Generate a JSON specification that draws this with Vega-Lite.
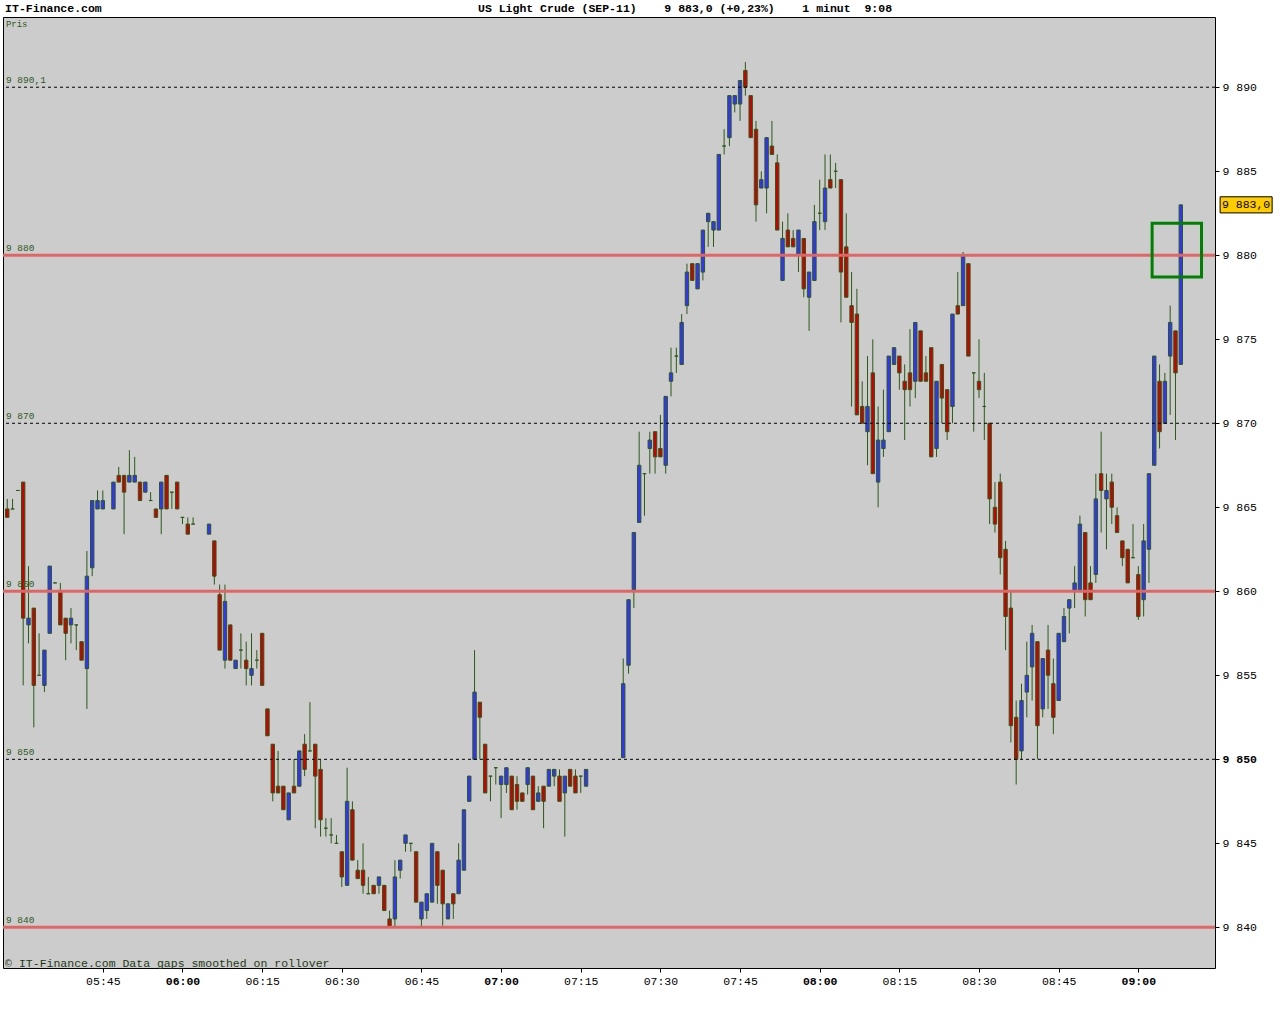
{
  "$schema": "https://vega.github.io/schema/vega-lite/v6.json",
  "width": 1212,
  "height": 951,
  "autosize": {"type": "none"},
  "padding": {"left": 3, "top": 17, "right": 65, "bottom": 56},
  "background": "white",
  "config": {
    "view": {"fill": "#cccccc", "stroke": "black", "strokeWidth": 1},
    "axis": {"labelFont": "Liberation Mono", "labelFontSize": 11.5, "labelColor": "black", "tickColor": "black", "grid": false, "domain": false, "title": null}
  },
  "datasets": {
    "candles": [
      {"t":327,"o":9864.9,"h":9865.5,"l":9864.4,"c":9864.4},
      {"t":328,"o":9864.9,"h":9865.5,"l":9864.9,"c":9864.9},
      {"t":329,"o":9866.0,"h":9866.0,"l":9866.0,"c":9866.0},
      {"t":330,"o":9866.5,"h":9866.5,"l":9854.4,"c":9858.4},
      {"t":331,"o":9858.0,"h":9861.5,"l":9856.9,"c":9858.4},
      {"t":332,"o":9859.0,"h":9859.0,"l":9851.9,"c":9854.4},
      {"t":333,"o":9855.0,"h":9857.5,"l":9855.0,"c":9855.0},
      {"t":334,"o":9854.4,"h":9856.5,"l":9854.0,"c":9856.5},
      {"t":335,"o":9857.5,"h":9861.5,"l":9857.5,"c":9861.5},
      {"t":336,"o":9860.5,"h":9860.5,"l":9860.5,"c":9860.5},
      {"t":337,"o":9860.0,"h":9860.5,"l":9858.0,"c":9858.0},
      {"t":338,"o":9858.4,"h":9858.4,"l":9855.9,"c":9857.5},
      {"t":339,"o":9858.0,"h":9859.0,"l":9856.9,"c":9858.4},
      {"t":340,"o":9858.0,"h":9858.0,"l":9856.5,"c":9858.0},
      {"t":341,"o":9857.0,"h":9857.0,"l":9855.9,"c":9855.9},
      {"t":342,"o":9855.4,"h":9862.4,"l":9853.0,"c":9860.9},
      {"t":343,"o":9861.4,"h":9865.4,"l":9860.9,"c":9865.4},
      {"t":344,"o":9864.9,"h":9866.0,"l":9864.9,"c":9865.4},
      {"t":345,"o":9864.9,"h":9866.0,"l":9864.9,"c":9865.4},
      {"t":347,"o":9864.9,"h":9866.5,"l":9864.9,"c":9866.5},
      {"t":348,"o":9866.9,"h":9867.4,"l":9866.5,"c":9866.5},
      {"t":349,"o":9866.9,"h":9866.9,"l":9863.4,"c":9865.9},
      {"t":350,"o":9866.5,"h":9868.4,"l":9866.5,"c":9866.9},
      {"t":351,"o":9866.5,"h":9868.0,"l":9866.5,"c":9866.9},
      {"t":352,"o":9866.5,"h":9866.5,"l":9865.4,"c":9865.4},
      {"t":353,"o":9865.9,"h":9866.5,"l":9865.9,"c":9866.5},
      {"t":354,"o":9865.4,"h":9865.9,"l":9865.4,"c":9865.4},
      {"t":355,"o":9864.9,"h":9864.9,"l":9864.4,"c":9864.4},
      {"t":356,"o":9864.9,"h":9866.5,"l":9863.4,"c":9866.5},
      {"t":357,"o":9866.9,"h":9866.9,"l":9864.9,"c":9864.9},
      {"t":358,"o":9865.9,"h":9865.9,"l":9864.9,"c":9865.9},
      {"t":359,"o":9866.5,"h":9866.5,"l":9864.9,"c":9864.9},
      {"t":360,"o":9864.4,"h":9864.4,"l":9864.0,"c":9864.4},
      {"t":361,"o":9864.0,"h":9864.4,"l":9863.4,"c":9863.4},
      {"t":362,"o":9864.0,"h":9864.4,"l":9864.0,"c":9864.0},
      {"t":365,"o":9863.4,"h":9864.0,"l":9863.4,"c":9864.0},
      {"t":366,"o":9863.0,"h":9863.0,"l":9860.4,"c":9860.9},
      {"t":367,"o":9859.8,"h":9860.4,"l":9856.5,"c":9856.5},
      {"t":368,"o":9855.9,"h":9860.4,"l":9855.4,"c":9859.4},
      {"t":369,"o":9858.0,"h":9858.0,"l":9855.9,"c":9855.9},
      {"t":370,"o":9855.4,"h":9855.9,"l":9855.4,"c":9855.9},
      {"t":371,"o":9856.5,"h":9857.5,"l":9855.4,"c":9856.5},
      {"t":372,"o":9855.9,"h":9857.0,"l":9854.4,"c":9855.4},
      {"t":373,"o":9855.0,"h":9857.5,"l":9854.4,"c":9855.4},
      {"t":374,"o":9855.9,"h":9856.5,"l":9855.4,"c":9855.9},
      {"t":375,"o":9857.5,"h":9857.5,"l":9854.4,"c":9854.4},
      {"t":376,"o":9853.0,"h":9853.0,"l":9851.4,"c":9851.4},
      {"t":377,"o":9850.9,"h":9850.9,"l":9847.5,"c":9848.0},
      {"t":378,"o":9848.4,"h":9850.5,"l":9848.0,"c":9848.0},
      {"t":379,"o":9848.4,"h":9848.4,"l":9847.0,"c":9847.0},
      {"t":380,"o":9846.4,"h":9848.0,"l":9846.4,"c":9848.0},
      {"t":381,"o":9848.4,"h":9850.0,"l":9848.0,"c":9848.0},
      {"t":382,"o":9848.4,"h":9850.5,"l":9848.4,"c":9850.5},
      {"t":383,"o":9850.9,"h":9851.5,"l":9849.0,"c":9849.4},
      {"t":384,"o":9850.5,"h":9853.4,"l":9850.5,"c":9850.5},
      {"t":385,"o":9850.9,"h":9850.9,"l":9845.9,"c":9849.0},
      {"t":386,"o":9849.4,"h":9850.0,"l":9845.4,"c":9846.4},
      {"t":387,"o":9845.9,"h":9846.5,"l":9845.4,"c":9845.9},
      {"t":388,"o":9845.5,"h":9846.5,"l":9845.0,"c":9845.5},
      {"t":389,"o":9845.0,"h":9845.5,"l":9845.0,"c":9845.0},
      {"t":390,"o":9844.5,"h":9844.5,"l":9842.4,"c":9843.0},
      {"t":391,"o":9842.5,"h":9849.5,"l":9842.5,"c":9847.5},
      {"t":392,"o":9847.0,"h":9847.5,"l":9844.0,"c":9844.0},
      {"t":393,"o":9843.4,"h":9844.0,"l":9842.9,"c":9842.9},
      {"t":394,"o":9843.4,"h":9845.0,"l":9842.0,"c":9842.5},
      {"t":395,"o":9842.0,"h":9843.0,"l":9842.0,"c":9842.0},
      {"t":396,"o":9842.5,"h":9842.5,"l":9842.0,"c":9842.0},
      {"t":397,"o":9842.5,"h":9843.0,"l":9842.0,"c":9843.0},
      {"t":398,"o":9842.5,"h":9842.5,"l":9841.0,"c":9841.0},
      {"t":399,"o":9840.5,"h":9841.0,"l":9840.0,"c":9840.0},
      {"t":400,"o":9840.5,"h":9844.0,"l":9840.0,"c":9843.0},
      {"t":401,"o":9843.4,"h":9844.0,"l":9842.9,"c":9844.0},
      {"t":402,"o":9845.0,"h":9845.5,"l":9844.5,"c":9845.5},
      {"t":403,"o":9845.0,"h":9845.0,"l":9844.5,"c":9845.0},
      {"t":404,"o":9844.5,"h":9844.5,"l":9841.5,"c":9841.5},
      {"t":405,"o":9840.5,"h":9841.5,"l":9840.0,"c":9841.5},
      {"t":406,"o":9841.0,"h":9842.0,"l":9840.5,"c":9842.0},
      {"t":407,"o":9841.5,"h":9845.0,"l":9841.5,"c":9845.0},
      {"t":408,"o":9844.5,"h":9844.5,"l":9841.4,"c":9842.5},
      {"t":409,"o":9843.4,"h":9843.4,"l":9840.1,"c":9841.4},
      {"t":410,"o":9840.5,"h":9841.4,"l":9840.5,"c":9841.4},
      {"t":411,"o":9842.0,"h":9842.0,"l":9840.5,"c":9841.4},
      {"t":412,"o":9842.0,"h":9845.0,"l":9842.0,"c":9844.0},
      {"t":413,"o":9843.4,"h":9847.0,"l":9843.4,"c":9847.0},
      {"t":414,"o":9847.5,"h":9849.0,"l":9847.5,"c":9849.0},
      {"t":415,"o":9850.0,"h":9856.5,"l":9850.0,"c":9854.0},
      {"t":416,"o":9853.4,"h":9853.4,"l":9850.0,"c":9852.5},
      {"t":417,"o":9850.9,"h":9850.9,"l":9848.0,"c":9848.0},
      {"t":418,"o":9849.0,"h":9849.0,"l":9847.5,"c":9849.0},
      {"t":419,"o":9849.5,"h":9849.5,"l":9848.5,"c":9849.5},
      {"t":420,"o":9848.5,"h":9849.0,"l":9846.5,"c":9849.0},
      {"t":421,"o":9848.5,"h":9849.5,"l":9848.0,"c":9849.5},
      {"t":422,"o":9849.0,"h":9849.0,"l":9847.0,"c":9847.0},
      {"t":423,"o":9848.5,"h":9849.0,"l":9847.0,"c":9847.5},
      {"t":424,"o":9848.0,"h":9848.0,"l":9847.5,"c":9847.5},
      {"t":425,"o":9848.5,"h":9849.5,"l":9847.9,"c":9849.5},
      {"t":426,"o":9849.0,"h":9849.0,"l":9847.0,"c":9847.0},
      {"t":427,"o":9847.5,"h":9848.4,"l":9847.5,"c":9848.0},
      {"t":428,"o":9848.4,"h":9848.4,"l":9845.9,"c":9847.5},
      {"t":429,"o":9848.4,"h":9849.4,"l":9848.4,"c":9849.4},
      {"t":430,"o":9849.0,"h":9849.4,"l":9848.4,"c":9849.4},
      {"t":431,"o":9849.0,"h":9849.4,"l":9847.5,"c":9847.5},
      {"t":432,"o":9848.0,"h":9849.0,"l":9845.4,"c":9849.0},
      {"t":433,"o":9849.4,"h":9849.4,"l":9848.4,"c":9848.4},
      {"t":434,"o":9849.0,"h":9849.4,"l":9848.0,"c":9848.0},
      {"t":435,"o":9849.0,"h":9849.0,"l":9848.0,"c":9849.0},
      {"t":436,"o":9848.4,"h":9849.4,"l":9848.4,"c":9849.4},
      {"t":443,"o":9850.1,"h":9856.0,"l":9850.1,"c":9854.5},
      {"t":444,"o":9855.6,"h":9859.5,"l":9855.1,"c":9859.5},
      {"t":445,"o":9860.1,"h":9863.5,"l":9859.0,"c":9863.5},
      {"t":446,"o":9864.1,"h":9869.5,"l":9864.1,"c":9867.5},
      {"t":447,"o":9867.0,"h":9867.0,"l":9864.5,"c":9867.0},
      {"t":448,"o":9868.5,"h":9869.5,"l":9867.0,"c":9869.0},
      {"t":449,"o":9869.5,"h":9869.5,"l":9867.0,"c":9868.0},
      {"t":450,"o":9868.5,"h":9870.5,"l":9868.0,"c":9868.0},
      {"t":451,"o":9867.5,"h":9871.6,"l":9867.0,"c":9871.6},
      {"t":452,"o":9872.5,"h":9874.5,"l":9871.6,"c":9873.0},
      {"t":453,"o":9874.0,"h":9874.5,"l":9873.0,"c":9874.0},
      {"t":454,"o":9873.5,"h":9876.5,"l":9873.5,"c":9876.0},
      {"t":455,"o":9877.0,"h":9879.5,"l":9876.5,"c":9879.0},
      {"t":456,"o":9879.5,"h":9879.5,"l":9878.5,"c":9878.5},
      {"t":457,"o":9878.0,"h":9879.5,"l":9878.0,"c":9879.5},
      {"t":458,"o":9879.0,"h":9881.5,"l":9878.5,"c":9881.5},
      {"t":459,"o":9882.0,"h":9882.5,"l":9880.5,"c":9882.5},
      {"t":460,"o":9881.5,"h":9882.0,"l":9880.5,"c":9882.0},
      {"t":461,"o":9881.5,"h":9886.0,"l":9881.5,"c":9886.0},
      {"t":462,"o":9886.5,"h":9887.5,"l":9886.0,"c":9886.5},
      {"t":463,"o":9887.0,"h":9889.5,"l":9886.5,"c":9889.5},
      {"t":464,"o":9889.0,"h":9889.5,"l":9888.5,"c":9889.5},
      {"t":465,"o":9889.0,"h":9890.4,"l":9888.0,"c":9890.4},
      {"t":466,"o":9891.0,"h":9891.5,"l":9889.5,"c":9890.0},
      {"t":467,"o":9889.5,"h":9889.5,"l":9887.0,"c":9887.0},
      {"t":468,"o":9887.5,"h":9888.0,"l":9882.0,"c":9883.0},
      {"t":469,"o":9884.0,"h":9885.0,"l":9884.0,"c":9884.5},
      {"t":470,"o":9884.0,"h":9887.0,"l":9882.5,"c":9887.0},
      {"t":471,"o":9886.5,"h":9888.0,"l":9886.0,"c":9886.0},
      {"t":472,"o":9885.5,"h":9886.0,"l":9881.5,"c":9881.5},
      {"t":473,"o":9878.5,"h":9882.0,"l":9878.5,"c":9881.0},
      {"t":474,"o":9881.5,"h":9882.5,"l":9880.5,"c":9880.5},
      {"t":475,"o":9881.0,"h":9881.5,"l":9880.5,"c":9880.5},
      {"t":476,"o":9880.0,"h":9881.5,"l":9879.0,"c":9881.5},
      {"t":477,"o":9881.0,"h":9881.0,"l":9877.5,"c":9878.0},
      {"t":478,"o":9877.5,"h":9879.0,"l":9875.5,"c":9879.0},
      {"t":479,"o":9878.5,"h":9883.0,"l":9878.5,"c":9882.0},
      {"t":480,"o":9882.5,"h":9884.5,"l":9881.5,"c":9882.5},
      {"t":481,"o":9882.0,"h":9886.0,"l":9881.5,"c":9884.0},
      {"t":482,"o":9884.5,"h":9886.0,"l":9884.0,"c":9884.0},
      {"t":483,"o":9885.0,"h":9885.5,"l":9884.0,"c":9885.0},
      {"t":484,"o":9884.5,"h":9884.5,"l":9876.0,"c":9879.0},
      {"t":485,"o":9880.5,"h":9882.5,"l":9877.5,"c":9877.5},
      {"t":486,"o":9877.0,"h":9879.0,"l":9871.0,"c":9876.0},
      {"t":487,"o":9876.5,"h":9878.0,"l":9870.5,"c":9870.5},
      {"t":488,"o":9871.0,"h":9872.5,"l":9870.0,"c":9870.0},
      {"t":489,"o":9869.5,"h":9874.0,"l":9867.5,"c":9871.0},
      {"t":490,"o":9873.0,"h":9875.0,"l":9867.0,"c":9867.0},
      {"t":491,"o":9866.5,"h":9871.0,"l":9865.0,"c":9869.0},
      {"t":492,"o":9868.5,"h":9872.0,"l":9868.0,"c":9869.0},
      {"t":493,"o":9869.5,"h":9874.0,"l":9869.5,"c":9874.0},
      {"t":494,"o":9873.5,"h":9874.5,"l":9873.5,"c":9874.5},
      {"t":495,"o":9874.0,"h":9874.0,"l":9872.0,"c":9873.0},
      {"t":496,"o":9872.5,"h":9873.5,"l":9869.0,"c":9872.0},
      {"t":497,"o":9873.0,"h":9875.6,"l":9871.0,"c":9872.0},
      {"t":498,"o":9872.5,"h":9876.0,"l":9871.5,"c":9876.0},
      {"t":499,"o":9875.5,"h":9875.5,"l":9872.5,"c":9872.5},
      {"t":500,"o":9873.0,"h":9874.0,"l":9872.5,"c":9872.5},
      {"t":501,"o":9874.5,"h":9874.5,"l":9868.0,"c":9868.0},
      {"t":502,"o":9868.5,"h":9872.5,"l":9868.0,"c":9872.5},
      {"t":503,"o":9873.5,"h":9873.5,"l":9870.0,"c":9871.5},
      {"t":504,"o":9872.0,"h":9872.0,"l":9869.0,"c":9869.5},
      {"t":505,"o":9871.0,"h":9876.5,"l":9870.0,"c":9876.5},
      {"t":506,"o":9877.0,"h":9879.0,"l":9876.5,"c":9876.5},
      {"t":507,"o":9877.0,"h":9880.2,"l":9877.0,"c":9880.0},
      {"t":508,"o":9879.5,"h":9879.5,"l":9874.0,"c":9874.0},
      {"t":509,"o":9873.0,"h":9873.0,"l":9869.5,"c":9873.0},
      {"t":510,"o":9872.5,"h":9875.0,"l":9871.5,"c":9872.0},
      {"t":511,"o":9871.0,"h":9873.0,"l":9869.0,"c":9871.0},
      {"t":512,"o":9870.0,"h":9870.0,"l":9864.0,"c":9865.5},
      {"t":513,"o":9865.0,"h":9866.5,"l":9863.5,"c":9864.0},
      {"t":514,"o":9866.5,"h":9867.0,"l":9861.0,"c":9862.0},
      {"t":515,"o":9862.5,"h":9863.0,"l":9856.5,"c":9858.5},
      {"t":516,"o":9859.0,"h":9860.0,"l":9851.0,"c":9852.0},
      {"t":517,"o":9852.5,"h":9853.5,"l":9848.5,"c":9850.0},
      {"t":518,"o":9850.5,"h":9854.5,"l":9850.0,"c":9853.5},
      {"t":519,"o":9854.0,"h":9857.0,"l":9852.5,"c":9855.0},
      {"t":520,"o":9855.5,"h":9858.0,"l":9853.5,"c":9857.5},
      {"t":521,"o":9857.0,"h":9857.0,"l":9850.0,"c":9852.0},
      {"t":522,"o":9853.0,"h":9856.0,"l":9852.5,"c":9856.0},
      {"t":523,"o":9856.5,"h":9858.0,"l":9853.0,"c":9855.0},
      {"t":524,"o":9854.5,"h":9856.0,"l":9851.5,"c":9852.5},
      {"t":525,"o":9853.5,"h":9857.5,"l":9853.5,"c":9857.5},
      {"t":526,"o":9857.0,"h":9859.0,"l":9857.0,"c":9858.5},
      {"t":527,"o":9859.0,"h":9859.5,"l":9857.5,"c":9859.5},
      {"t":528,"o":9860.0,"h":9861.5,"l":9859.0,"c":9860.5},
      {"t":529,"o":9860.0,"h":9864.5,"l":9860.0,"c":9864.0},
      {"t":530,"o":9863.5,"h":9863.5,"l":9858.5,"c":9859.5},
      {"t":531,"o":9860.5,"h":9861.5,"l":9859.5,"c":9859.5},
      {"t":532,"o":9861.0,"h":9867.0,"l":9860.5,"c":9865.5},
      {"t":533,"o":9867.0,"h":9869.5,"l":9863.5,"c":9866.0},
      {"t":534,"o":9865.5,"h":9867.0,"l":9862.5,"c":9866.0},
      {"t":535,"o":9866.5,"h":9867.0,"l":9864.0,"c":9865.0},
      {"t":536,"o":9864.5,"h":9865.0,"l":9863.5,"c":9863.5},
      {"t":537,"o":9863.0,"h":9863.0,"l":9861.5,"c":9862.0},
      {"t":538,"o":9862.5,"h":9862.5,"l":9860.5,"c":9860.5},
      {"t":539,"o":9862.0,"h":9864.0,"l":9862.0,"c":9862.0},
      {"t":540,"o":9861.0,"h":9861.5,"l":9858.3,"c":9858.5},
      {"t":541,"o":9859.5,"h":9864.0,"l":9858.5,"c":9863.0},
      {"t":542,"o":9862.5,"h":9867.0,"l":9860.5,"c":9867.0},
      {"t":543,"o":9867.5,"h":9874.0,"l":9867.5,"c":9874.0},
      {"t":544,"o":9872.5,"h":9873.5,"l":9868.5,"c":9869.5},
      {"t":545,"o":9870.0,"h":9873.0,"l":9870.0,"c":9872.5},
      {"t":546,"o":9874.0,"h":9877.0,"l":9870.5,"c":9876.0},
      {"t":547,"o":9875.5,"h":9875.5,"l":9869.0,"c":9873.0},
      {"t":548,"o":9873.5,"h":9883.0,"l":9873.5,"c":9883.0}
    ]
  },
  "layer": [
    {
      "data": {"name": "candles"},
      "mark": {"type": "rule", "color": "#2b5a18", "strokeWidth": 1},
      "encoding": {
        "x": {"field": "t", "type": "quantitative", "title": null,
              "scale": {"domain": [326.2, 554.44], "nice": false, "zero": false, "padding": 0},
              "axis": {"values": [345,360,375,390,405,420,435,450,465,480,495,510,525,540],
                       "labelExpr": "timeFormat(datetime(2011,7,1,floor(datum.value/60),datum.value%60),'%H:%M')",
                       "labelFontWeight": {"condition": {"test": "datum.value % 60 === 0", "value": "bold"}, "value": "normal"},
                       "tickSize": 4, "labelPadding": 3, "labelFlush": false, "labelOverlap": false}},
        "y": {"field": "l", "type": "quantitative", "title": null,
              "scale": {"domain": [9837.58, 9894.18], "nice": false, "zero": false, "padding": 0},
              "axis": {"orient": "right", "values": [9840,9845,9850,9855,9860,9865,9870,9875,9880,9885,9890],
                       "labelExpr": "'9\u00a0' + format(datum.value - 9000, 'd')",
                       "labelFontWeight": {"condition": {"test": "datum.value % 50 === 0", "value": "bold"}, "value": "normal"},
                       "tickSize": 4, "labelPadding": 3, "labelFlush": false, "labelOverlap": false}},
        "y2": {"field": "h"}
      }
    },
    {
      "data": {"name": "candles"},
      "mark": {"type": "bar", "size": 3.4, "stroke": "#2b5a18", "strokeWidth": 1},
      "encoding": {
        "x": {"field": "t", "type": "quantitative", "title": null,
              "scale": {"domain": [326.2, 554.44], "nice": false, "zero": false, "padding": 0}},
        "y": {"field": "o", "type": "quantitative", "title": null,
              "scale": {"domain": [9837.58, 9894.18], "nice": false, "zero": false, "padding": 0}},
        "y2": {"field": "c"},
        "fill": {"condition": {"test": "datum.c > datum.o", "value": "#3333ff"}, "value": "#cc0000"}
      }
    },
    {
      "data": {"values": [{"v": 9880}, {"v": 9860}, {"v": 9840}]},
      "mark": {"type": "rule", "color": "#e06666", "strokeWidth": 3},
      "encoding": {
        "y": {"field": "v", "type": "quantitative", "title": null,
              "scale": {"domain": [9837.58, 9894.18], "nice": false, "zero": false, "padding": 0}}
      }
    },
    {
      "data": {"values": [{"v": 9890}, {"v": 9870}, {"v": 9850}]},
      "mark": {"type": "rule", "color": "black", "strokeWidth": 1, "strokeDash": [3, 3]},
      "encoding": {
        "y": {"field": "v", "type": "quantitative", "title": null,
              "scale": {"domain": [9837.58, 9894.18], "nice": false, "zero": false, "padding": 0}}
      }
    },
    {
      "data": {"values": [
        {"v": 9890, "s": "9\u00a0890,1"}, {"v": 9880, "s": "9\u00a0880"}, {"v": 9870, "s": "9\u00a0870"},
        {"v": 9860, "s": "9\u00a0860"}, {"v": 9850, "s": "9\u00a0850"}, {"v": 9840, "s": "9\u00a0840"}]},
      "mark": {"type": "text", "align": "left", "baseline": "bottom", "dy": -2, "font": "Liberation Mono", "fontSize": 9.5, "color": "#2e5a1e"},
      "encoding": {
        "x": {"datum": 326.75, "type": "quantitative", "title": null,
              "scale": {"domain": [326.2, 554.44], "nice": false, "zero": false, "padding": 0}},
        "y": {"field": "v", "type": "quantitative", "title": null,
              "scale": {"domain": [9837.58, 9894.18], "nice": false, "zero": false, "padding": 0}},
        "text": {"field": "s"}
      }
    },
    {
      "data": {"values": [
        {"tx": 326.75, "py": 9893.77, "s": "Pris", "k": "small"},
        {"tx": 326.6, "py": 9837.8, "s": "© IT-Finance.com Data gaps smoothed on rollover", "k": "foot"}]},
      "mark": {"type": "text", "align": "left", "baseline": "middle", "font": "Liberation Mono"},
      "encoding": {
        "x": {"field": "tx", "type": "quantitative", "title": null,
              "scale": {"domain": [326.2, 554.44], "nice": false, "zero": false, "padding": 0}},
        "y": {"field": "py", "type": "quantitative", "title": null,
              "scale": {"domain": [9837.58, 9894.18], "nice": false, "zero": false, "padding": 0}},
        "text": {"field": "s"},
        "size": {"condition": {"test": "datum.k === 'small'", "value": 9}, "value": 11.5},
        "color": {"condition": {"test": "datum.k === 'small'", "value": "#2e5a1e"}, "value": "#1e3a14"}
      }
    },
    {
      "data": {"values": [
        {"tx": 326.6, "py": 9894.68, "s": "IT-Finance.com"},
        {"tx": 415.65, "py": 9894.68, "s": "US Light Crude (SEP-11)\u00a0\u00a0\u00a0\u00a09\u00a0883,0 (+0,23%)\u00a0\u00a0\u00a0\u00a01 minut\u00a0\u00a09:08"}]},
      "mark": {"type": "text", "align": "left", "baseline": "middle", "font": "Liberation Mono", "fontSize": 11.5, "fontWeight": "bold", "color": "black"},
      "encoding": {
        "x": {"field": "tx", "type": "quantitative", "title": null,
              "scale": {"domain": [326.2, 554.44], "nice": false, "zero": false, "padding": 0}},
        "y": {"field": "py", "type": "quantitative", "title": null,
              "scale": {"domain": [9837.58, 9894.18], "nice": false, "zero": false, "padding": 0}},
        "text": {"field": "s"}
      }
    },
    {
      "data": {"values": [{"x1": 542.6, "x2": 551.9, "y1": 9878.7, "y2": 9881.9}]},
      "mark": {"type": "rect", "fill": null, "fillOpacity": 0, "stroke": "#008000", "strokeWidth": 3},
      "encoding": {
        "x": {"field": "x1", "type": "quantitative", "title": null,
              "scale": {"domain": [326.2, 554.44], "nice": false, "zero": false, "padding": 0}},
        "x2": {"field": "x2"},
        "y": {"field": "y1", "type": "quantitative", "title": null,
              "scale": {"domain": [9837.58, 9894.18], "nice": false, "zero": false, "padding": 0}},
        "y2": {"field": "y2"}
      }
    },
    {
      "data": {"values": [{"x1": 555.4, "x2": 565.2, "y1": 9882.52, "y2": 9883.48}]},
      "mark": {"type": "rect", "fill": "#ffcc00", "stroke": "black", "strokeWidth": 1},
      "encoding": {
        "x": {"field": "x1", "type": "quantitative", "title": null,
              "scale": {"domain": [326.2, 554.44], "nice": false, "zero": false, "padding": 0}},
        "x2": {"field": "x2"},
        "y": {"field": "y1", "type": "quantitative", "title": null,
              "scale": {"domain": [9837.58, 9894.18], "nice": false, "zero": false, "padding": 0}},
        "y2": {"field": "y2"}
      }
    },
    {
      "data": {"values": [{"tx": 560.3, "py": 9883.0, "s": "9\u00a0883,0"}]},
      "mark": {"type": "text", "align": "center", "baseline": "middle", "font": "Liberation Mono", "fontSize": 11.5, "color": "black"},
      "encoding": {
        "x": {"field": "tx", "type": "quantitative", "title": null,
              "scale": {"domain": [326.2, 554.44], "nice": false, "zero": false, "padding": 0}},
        "y": {"field": "py", "type": "quantitative", "title": null,
              "scale": {"domain": [9837.58, 9894.18], "nice": false, "zero": false, "padding": 0}},
        "text": {"field": "s"}
      }
    }
  ]
}
